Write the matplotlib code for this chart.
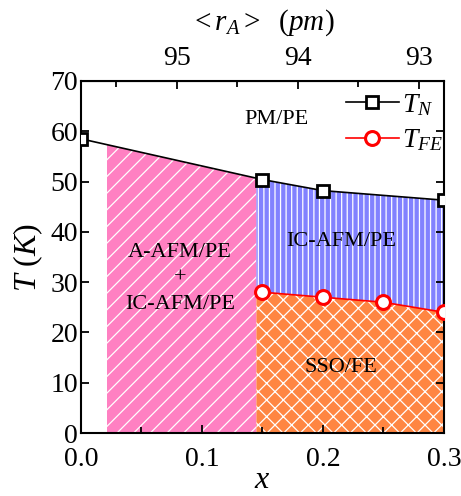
import numpy as np
import matplotlib
matplotlib.use('Agg')
import matplotlib.pyplot as plt
from matplotlib.ticker import MultipleLocator, FixedLocator

plt.rcParams['font.family'] = ['Liberation Serif', 'DejaVu Serif']
plt.rcParams['mathtext.fontset'] = 'custom'
plt.rcParams['mathtext.rm'] = 'Liberation Serif'
plt.rcParams['mathtext.it'] = 'Liberation Serif:italic'
plt.rcParams['hatch.linewidth'] = 0.9

# data
x_tn = [0.0, 0.15, 0.2, 0.3]
t_tn = [58.5, 50.4, 48.2, 46.3]
x_fe = [0.15, 0.2, 0.25, 0.3]
t_fe = [28.0, 27.0, 26.0, 24.0]
x_pink = [0.0215, 0.145]   # A-AFM + IC-AFM region
x_split = 0.145
r_ticks = [95, 94, 93]
r_minor = [95.5, 94.5, 93.5]

def to_r(x):
    return 95.793 - 10*np.asarray(x)

def to_x(r):
    return (95.793 - np.asarray(r))/10

fig = plt.figure(figsize=(4.61, 4.96), dpi=100)
ax = fig.add_axes([0.1757, 0.127, 0.7873, 0.7097])

#fills
xp = np.linspace(x_pink[0], x_pink[1], 50)
ax.fill_between(xp, 0, np.interp(xp, x_tn, t_tn), facecolor='#ff80c2', edgecolor='white',
                hatch='//', lw=0, zorder=1)
xr = np.linspace(x_split, 0.3, 50)
# extrapolate TFE slightly to the left of the first point
fe_ext = np.interp(xr, [x_split] + x_fe, [t_fe[0] + 0.1] + t_fe)
ax.fill_between(xr, fe_ext, np.interp(xr, x_tn, t_tn), facecolor='#8282ff', edgecolor='white',
                hatch='|||', lw=0, zorder=1)
ax.fill_between(xr, 0, fe_ext, facecolor='#ff8642', edgecolor='white',
                hatch='xx', lw=0, zorder=1)

ax.plot(x_tn, t_tn, color='black', lw=1.2, marker='s', ms=8.5, mfc='white', mec='black',
        mew=2, label='$T_N$', zorder=5)
ax.plot(x_fe, t_fe, color='red', lw=1.2, marker='o', ms=10, mfc='white', mec='red',
        mew=2.2, label='$T_{FE}$', zorder=5)

ax.text(0.162, 62.3, 'PM/PE', fontsize=16, ha='center', va='center')
ax.text(0.082, 30.8, 'A-AFM/PE\n+\nIC-AFM/PE', fontsize=16, ha='center', va='center',
        linespacing=1.5)
ax.text(0.215, 38.0, 'IC-AFM/PE', fontsize=16, ha='center', va='center')
ax.text(0.215, 13.1, 'SSO/FE', fontsize=16, ha='center', va='center')

ax.set_xlim(0, 0.3)
ax.set_ylim(0, 70)
ax.xaxis.set_major_locator(MultipleLocator(0.1))
ax.xaxis.set_minor_locator(MultipleLocator(0.05))
ax.yaxis.set_major_locator(MultipleLocator(10))
ax.tick_params(which='both', direction='in', labelsize=20, width=1.3, right=True)
ax.tick_params(which='major', length=6)
ax.tick_params(which='minor', length=4)
ax.tick_params(axis='x', pad=10)
ax.tick_params(axis='y', pad=2)
for s in ax.spines.values():
    s.set_linewidth(1.5)

ax.set_xlabel('$x$', fontsize=23, labelpad=-4)
ax.set_ylabel('$T$ $(K)$', fontsize=23, labelpad=4)

sec = ax.secondary_xaxis('top', functions=(to_r, to_x))
sec.xaxis.set_major_locator(FixedLocator(r_ticks))
sec.xaxis.set_minor_locator(FixedLocator(r_minor))
sec.tick_params(which='both', direction='in', labelsize=20, width=1.3, pad=7)
sec.tick_params(which='major', length=6)
sec.tick_params(which='minor', length=4)
sec.set_xlabel('$<r_A>$  $(pm)$', fontsize=21, labelpad=12)

leg = ax.legend(loc='upper right', bbox_to_anchor=(1.065, 1.04), frameon=False, fontsize=20,
                handlelength=1.9, handletextpad=0.1, labelspacing=0.35)

fig.savefig('out.png', dpi=100)
